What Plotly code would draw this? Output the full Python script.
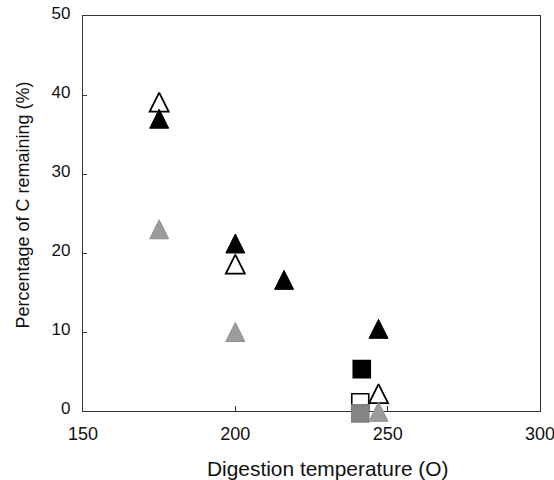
import plotly.graph_objects as go

# Data (digestion temperature in °C, percentage of C remaining)
black_tri_x = [175, 200, 216, 247]
black_tri_y = [36.6, 20.8, 16.2, 10.0]
open_tri_x = [175, 200, 247]
open_tri_y = [38.7, 18.2, 1.8]
gray_tri_x = [175, 200, 247]
gray_tri_y = [22.6, 9.6, -0.5]
black_sq_x = [241.5]
black_sq_y = [5.3]
open_sq_x = [241]
open_sq_y = [1.1]
gray_sq_x = [241]
gray_sq_y = [-0.3]

x_ticks = [150, 200, 250, 300]
y_ticks = [0, 10, 20, 30, 40, 50]
x_range = [150, 300]
y_range = [0, 50]

# layout in pixels
W, H = 554, 480
ML, MR, MT, MB = 83, 14, 16, 60
EXTRA = 9  # px of room below the y=0 line for markers sitting on it
plot_h = H - MT - MB
ppu = (plot_h - EXTRA) / (y_range[1] - y_range[0])
y_dom0 = EXTRA / plot_h
y2_range = [y_range[0] - EXTRA / ppu, y_range[1]]

TRI = 19
fig = go.Figure()

def add_sq(x, y, fill, line, yaxis="y"):
    fig.add_trace(go.Scatter(
        x=x, y=y, yaxis=yaxis, mode="markers", cliponaxis=False, showlegend=False,
        marker=dict(symbol="square", size=17, color=fill,
                    line=dict(color=line, width=1.6))))

def add_tri(x, y, fill, line, lw, yaxis="y"):
    # upward triangle of equal width and height, centred on its centroid
    fig.add_trace(go.Scatter(
        x=x, y=y, yaxis=yaxis, mode="markers", cliponaxis=False, showlegend=False,
        marker=dict(symbol="arrow-down", angle=180, standoff=TRI / 2 * 4 / 3,
                    size=TRI, color=fill, line=dict(color=line, width=lw))))

add_sq(open_sq_x, open_sq_y, "white", "black", "y")
add_sq(black_sq_x, black_sq_y, "black", "black", "y")
add_tri(open_tri_x, open_tri_y, "white", "black", 1.8, "y")
add_tri(black_tri_x, black_tri_y, "black", "black", 1.0, "y")
add_sq(gray_sq_x, gray_sq_y, "#858585", "#808080", "y2")
add_tri(gray_tri_x, gray_tri_y, "#9c9c9c", "#8f8f8f", 1.0, "y2")

plot_w = W - ML - MR

fig.update_layout(
    width=W, height=H,
    margin=dict(l=ML, r=MR, t=MT, b=MB),
    paper_bgcolor="white", plot_bgcolor="rgba(0,0,0,0)",
    font=dict(family="Liberation Sans, Arial, sans-serif", size=17, color="#111111"),
    xaxis=dict(range=x_range, tickvals=x_ticks, ticks="inside", ticklen=5,
               tickcolor="#333333", tickfont=dict(size=18), ticklabelstandoff=6,
               ticklabeloverflow="allow", anchor="y",
               showline=True, linecolor="#333333", linewidth=1.2, mirror=True,
               showgrid=False, zeroline=False, automargin=False),
    yaxis=dict(range=y_range, domain=[y_dom0, 1], tickvals=y_ticks, ticks="inside", ticklen=4,
               tickcolor="#333333", tickfont=dict(size=17), ticklabelstandoff=8,
               ticklabelshift=-3,
               showline=True, linecolor="#333333", linewidth=1.2, mirror=True,
               showgrid=False, zeroline=False, automargin=False),
    yaxis2=dict(range=y2_range, domain=[0, 1], anchor="free", position=0,
                visible=False, showgrid=False, zeroline=False),
    annotations=[
        dict(text="Digestion temperature (O)", xref="paper", yref="paper",
             x=(328 - ML) / plot_w, y=-(468 - (H - MB)) / plot_h,
             xanchor="center", yanchor="middle", showarrow=False,
             font=dict(size=20.9)),
        dict(text="Percentage of C remaining (%)", xref="paper", yref="paper",
             x=(22 - ML) / plot_w, y=1 - (205.5 - MT) / plot_h,
             xanchor="center", yanchor="middle", textangle=-90, showarrow=False,
             font=dict(size=18)),
    ],
)

fig.write_html("out.html")
